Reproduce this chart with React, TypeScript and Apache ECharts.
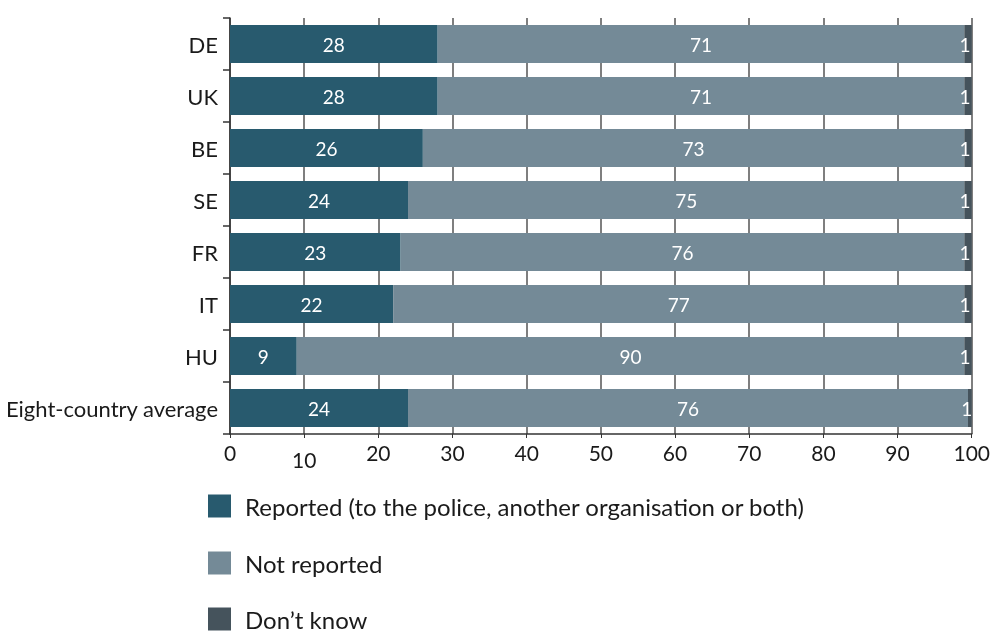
import React, { useEffect, useRef } from "react";
import * as echarts from "echarts";

const categories = ["DE", "UK", "BE", "SE", "FR", "IT", "HU", "Eight-country average"];
const reported = [28, 28, 26, 24, 23, 22, 9, 24];
const notReported = [71, 71, 73, 75, 76, 77, 90, 75.5];
const dontKnow = [1, 1, 1, 1, 1, 1, 1, 0.5];
const seriesNames = [
  "Reported (to the police, another organisation or both)",
  "Not reported",
  "Don\u2019t know",
];
const colors = ["#285a6e", "#748a97", "#45535c"];

const FONT = "Lato, 'Open Sans', sans-serif";

export default function App() {
  const ref = useRef<HTMLDivElement>(null);
  useEffect(() => {
    if (!ref.current) return;
    const chart = echarts.init(ref.current, null, { renderer: "svg" });
    const label = {
      show: true,
      position: "inside",
      color: "#ffffff",
      fontSize: 19,
      fontFamily: FONT,
      formatter: (p: any) => String(Math.round(p.value)),
    };
    const legendTops = [494, 551, 607];
    chart.setOption({
      animation: false,
      color: colors,
      textStyle: { fontFamily: FONT },
      grid: { left: 230, right: 18, top: 18, bottom: 198, containLabel: false },
      legend: seriesNames.map((name, i) => ({
        orient: "horizontal",
        left: 208,
        top: legendTops[i],
        padding: 0,
        itemWidth: 23,
        itemHeight: 23,
        icon: "rect",
        selectedMode: false,
        textStyle: {
          fontSize: 24,
          lineHeight: 23,
          color: "#1a1a1a",
          fontFamily: FONT,
          padding: [0, 0, 0, 9],
        },
        data: [name],
      })),
      xAxis: {
        type: "value",
        min: 0,
        max: 100,
        interval: 10,
        axisLine: { show: true, lineStyle: { color: "#333", width: 1.5 } },
        axisTick: { show: true, length: 4, lineStyle: { color: "#333" } },
        splitLine: { show: true, lineStyle: { color: "#555", width: 1.5 } },
        axisLabel: {
          fontSize: 21,
          color: "#1a1a1a",
          fontFamily: FONT,
          margin: 8,
          formatter: (v: number) => (v === 10 ? "{low|10}" : String(v)),
          rich: { low: { fontSize: 21, color: "#1a1a1a", fontFamily: FONT, padding: [7, 0, 0, 0] } },
        },
      },
      yAxis: {
        type: "category",
        inverse: true,
        data: categories,
        axisLine: { show: true, lineStyle: { color: "#333", width: 1.5 } },
        axisTick: { show: true, length: 7, lineStyle: { color: "#333", width: 1.5 } },
        axisLabel: { fontSize: 22, color: "#1a1a1a", fontFamily: FONT, margin: 12 },
      },
      series: [
        { name: seriesNames[0], type: "bar", stack: "a", data: reported, barWidth: 38, label },
        { name: seriesNames[1], type: "bar", stack: "a", data: notReported, barWidth: 38, label },
        { name: seriesNames[2], type: "bar", stack: "a", data: dontKnow, barWidth: 38, label: { ...label, offset: [-3, 0] } },
      ],
    });
    return () => chart.dispose();
  }, []);
  return (
    <div
      ref={ref}
      style={{ position: "fixed", left: 0, top: 0, width: 993, height: 632 }}
    />
  );
}
